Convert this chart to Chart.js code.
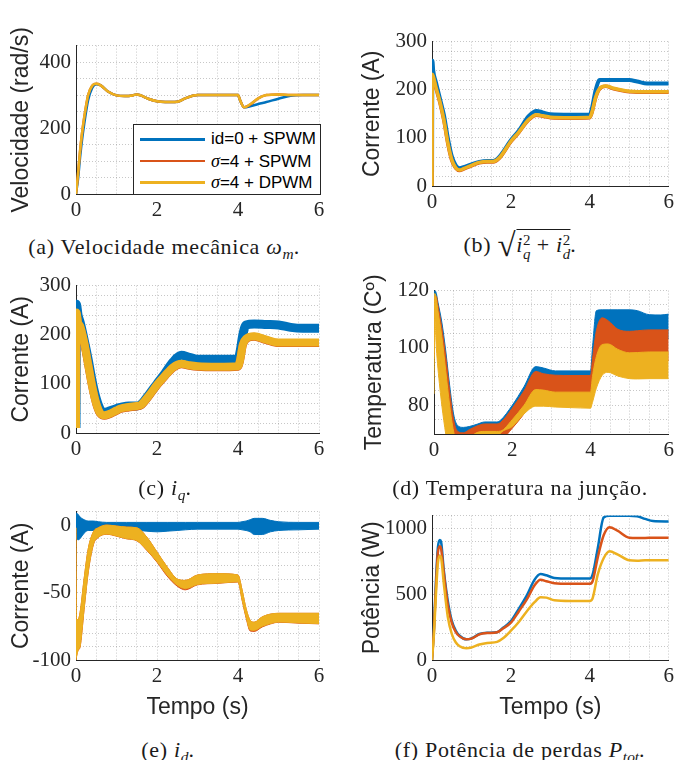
<!DOCTYPE html>
<html>
<head>
<meta charset="utf-8">
<script src="https://cdn.jsdelivr.net/npm/chart.js@4/dist/chart.umd.min.js"></script>
<style>
  html, body { margin: 0; padding: 0; background: #fff; }
  #page { position: relative; width: 678px; height: 760px; overflow: hidden; }
  canvas { position: absolute; }
  .cap { position: absolute; font-family: 'Liberation Serif', serif; font-size: 22px; line-height: 22px; letter-spacing: 0.7px;
         color: #1a1a1a; white-space: nowrap; transform: translateX(-50%); }
  .cap sub { font-size: 70%; vertical-align: -0.3em; line-height: 0; letter-spacing: 0; }
  .ss { display: inline-block; vertical-align: -0.45em; font-size: 68%; line-height: 0.95; text-align: left; letter-spacing: 0; }
  .ss span { display: block; }
  .rad { font-size: 150%; vertical-align: -0.12em; }
  .ov { border-top: 1px solid #1a1a1a; padding-top: 2px; }
  #legend { position: absolute; left: 133px; top: 124px; width: 186px; height: 69px; background: #fff;
            border: 1px solid #262626; font-family: 'Liberation Sans', sans-serif; font-size: 17px; color: #000; }
  .row { position: absolute; left: 0; height: 20px; width: 100%; }
  .row .ln { position: absolute; left: 6px; top: 9px; width: 65px; height: 2.5px; }
  .row .tx { position: absolute; left: 77px; top: 0; line-height: 20px; }
  .sig { font-family: 'Liberation Serif', serif; font-style: italic; font-size: 18px; }
</style>
</head>
<body>
<div id="page">
  <canvas id="velChart" width="330" height="192" style="left:0px;top:28px"></canvas>
  <canvas id="magChart" width="338" height="188" style="left:340px;top:24px"></canvas>
  <canvas id="iqChart" width="330" height="191" style="left:0px;top:268px"></canvas>
  <canvas id="tempChart" width="338" height="187" style="left:340px;top:273px"></canvas>
  <canvas id="idChart" width="330" height="228" style="left:0px;top:494px"></canvas>
  <canvas id="powChart" width="338" height="224" style="left:340px;top:498px"></canvas>

  <div id="legend"></div>

  <div class="cap" style="left:164px;top:236px">(a) Velocidade mecânica <i>ω</i><sub><i>m</i></sub>.</div>
  <div class="cap" style="left:520px;top:233px">(b) <span class="rad">√</span><span class="ov"><i>i</i><span class="ss"><span>2</span><span><i>q</i></span></span> + <i>i</i><span class="ss"><span>2</span><span><i>d</i></span></span></span>.</div>
  <div class="cap" style="left:165px;top:477px">(c) <i>i</i><sub><i>q</i></sub>.</div>
  <div class="cap" style="left:520px;top:477px">(d) Temperatura na junção.</div>
  <div class="cap" style="left:168px;top:739px">(e) <i>i</i><sub><i>d</i></sub>.</div>
  <div class="cap" style="left:520px;top:739px">(f) Potência de perdas <i>P</i><sub><i>tot</i></sub>.</div>
</div>

<script>
const BLUE = '#0072BD';
const ORANGE = '#D95319';
const YELLOW = '#EDB120';
const AXIS = '#262626';
const GRID = 'rgba(0,0,0,0.22)';

const SERIES_LABELS = ['id=0 + SPWM', 'σ=4 + SPWM', 'σ=4 + DPWM'];

// (a) velocidade mecanica
const T_VEL = [0, 0.05, 0.1, 0.15, 0.2, 0.3, 0.4, 0.5, 0.6, 0.8, 1.0, 1.2, 1.4, 1.5, 1.6, 1.8, 2.0, 2.2, 2.5, 2.7, 3.0, 3.5, 4.0, 4.05, 4.15, 4.3, 4.5, 4.7, 5.0, 5.3, 5.6, 6.0];
const VEL_BLUE = [0, 45, 110, 165, 210, 285, 322, 333, 330, 310, 299, 297, 299, 302, 299, 288, 281, 279, 280, 290, 300, 300, 300, 285, 263, 266, 273, 279, 289, 298, 300, 300];
const VEL_ORANGE = [0, 60, 130, 185, 230, 300, 328, 334, 330, 310, 299, 297, 299, 302, 299, 288, 281, 279, 280, 290, 300, 300, 300, 285, 263, 271, 290, 300, 302, 300, 300, 300];
const VEL_YELLOW = [0, 60, 130, 185, 230, 300, 328, 334, 330, 310, 299, 297, 299, 302, 299, 288, 281, 279, 280, 290, 300, 300, 300, 285, 263, 272, 290, 300, 302, 300, 300, 300];

// (b) modulo da corrente
const T_MAG = [0, 0.01, 0.03, 0.1, 0.2, 0.3, 0.4, 0.5, 0.6, 0.7, 0.8, 1.0, 1.2, 1.4, 1.55, 1.7, 2.0, 2.2, 2.45, 2.65, 2.8, 3.0, 3.5, 4.0, 4.05, 4.15, 4.25, 4.4, 4.6, 4.9, 5.0, 5.2, 5.45, 5.7, 6.0];
const MAG_BLUE = [0, 260, 240, 215, 182, 148, 100, 62, 43, 37, 39, 45, 50, 52, 52, 60, 95, 115, 145, 156, 153, 149, 148, 148, 160, 200, 220, 220, 220, 220, 220, 217, 213, 213, 213];
const MAG_ORANGE = [0, 230, 226, 203, 173, 136, 88, 53, 37, 32, 35, 42, 48, 50, 50, 57, 92, 111, 137, 147, 145, 142, 141, 142, 151, 184, 202, 207, 202, 197, 196, 195, 195, 195, 195];
const MAG_YELLOW = [0, 232, 228, 205, 175, 138, 90, 55, 38, 33, 36, 43, 49, 51, 51, 58, 93, 112, 138, 148, 146, 143, 142, 143, 152, 185, 203, 208, 203, 198, 197, 196, 196, 196, 196];

// (c) iq
const T_IQ = [0, 0.01, 0.05, 0.1, 0.2, 0.3, 0.4, 0.5, 0.6, 0.7, 0.8, 1.0, 1.1, 1.3, 1.5, 1.6, 1.8, 2.0, 2.2, 2.4, 2.6, 2.8, 3.0, 3.5, 4.0, 4.05, 4.12, 4.2, 4.4, 4.7, 5.0, 5.3, 5.6, 6.0];
const IQ_BLUE = [10, 262, 240, 226, 190, 150, 105, 70, 48, 42, 44, 50, 52, 55, 55, 58, 78, 100, 122, 145, 158, 154, 150, 150, 150, 165, 200, 220, 222, 221, 220, 215, 213, 213];
const IQ_ORANGE = [10, 244, 224, 217, 184, 139, 94, 59, 39, 35, 37, 45, 49, 52, 54, 56, 75, 97, 116, 133, 140, 137, 135, 134, 135, 147, 179, 191, 196, 189, 183, 183, 183, 183];
const IQ_YELLOW = [10, 245, 225, 218, 185, 140, 95, 60, 40, 36, 38, 46, 50, 53, 55, 57, 76, 98, 117, 134, 141, 138, 136, 135, 136, 148, 180, 192, 197, 190, 184, 184, 184, 184];

// (d) temperatura na juncao (faixas max/min)
const T_TEMP = [0, 0.02, 0.06, 0.1, 0.2, 0.3, 0.4, 0.5, 0.6, 0.75, 0.9, 1.1, 1.3, 1.6, 1.7, 2.0, 2.3, 2.6, 2.8, 3.1, 3.5, 4.0, 4.05, 4.15, 4.3, 4.45, 4.7, 5.0, 5.2, 5.5, 5.8, 6.0];
const TEMP_BLUE_MAX = [113, 120, 119, 116, 109, 99, 87, 77, 73, 72.3, 72.6, 73.4, 74.2, 74.2, 74.8, 80, 86.5, 93.5, 93, 92, 92, 92, 100, 113, 113.3, 113.3, 113.3, 113.3, 113, 111.6, 111.5, 111.8];
const TEMP_BLUE_MIN = [107, 115, 115, 112, 104, 94, 82, 72, 68, 67.4, 68.5, 69.8, 70.5, 70.5, 71, 76, 82, 88.8, 88, 87.5, 87.4, 87.4, 93, 103, 107.5, 106.5, 103.5, 102.8, 103, 103.3, 103.3, 103.3];
const TEMP_ORANGE_MAX = [110, 118, 118, 115, 107, 97, 85, 75, 71, 70.4, 71.5, 72.8, 73.5, 73.5, 74, 79, 85, 91.8, 91, 90.5, 90.4, 90.4, 96, 106, 110.5, 109.5, 106.5, 105.8, 106, 106.3, 106.3, 106.3];
const TEMP_ORANGE_MIN = [97, 116, 114, 110, 101, 89, 77, 68, 64, 63, 65.5, 67.5, 67.9, 67.9, 68, 72, 77, 82.5, 82.3, 81.6, 81.6, 81.6, 87, 94, 97.5, 98.6, 96.5, 95.3, 95.4, 95.6, 95.6, 95.6];
const TEMP_YELLOW_MAX = [100, 119, 117, 113, 104, 92, 80, 71, 67, 66, 68.5, 70.5, 70.9, 70.9, 71, 75, 80, 85.5, 85.3, 84.6, 84.6, 84.6, 90, 97, 101.2, 101.4, 99.5, 98.3, 98.4, 98.6, 98.6, 98.6];
const TEMP_YELLOW_MIN = [84, 110, 100, 93, 80, 70, 62, 56, 52, 50, 50, 55, 60, 68, 70.3, 72.6, 77, 79.7, 79.7, 79.4, 79.2, 79, 81, 86, 90.5, 91.5, 90.2, 89.3, 89.2, 89.3, 89.3, 89.3];

// (e) id (faixas max/min)
const T_ID = [0, 0.01, 0.05, 0.1, 0.2, 0.3, 0.43, 0.55, 0.76, 1.0, 1.25, 1.5, 1.75, 2.0, 2.25, 2.5, 2.7, 3.0, 3.5, 4.0, 4.1, 4.2, 4.3, 4.4, 4.6, 4.8, 5.0, 5.5, 6.0];
const ID_BLUE_MAX = [8, 9, 8, 6, 4, 3, 3, 2.5, 2, 2, 2, 2, 2, 2, 2, 2, 2, 2, 2, 2, 2.5, 3, 4, 5, 5, 3.5, 2.5, 2, 2];
const ID_BLUE_MIN = [-8, -9, -11, -10, -6, -4, -4, -4, -4, -4, -4, -4, -4.5, -5, -4.5, -4, -3.5, -3, -3, -3, -3.5, -4, -5, -7, -7, -5, -4, -3.5, -3];
const ID_ORANGE_MAX = [-2, -70, -70, -65, -40, -18, -5, -2, 0, -0.7, -1.5, -2, -9, -20, -31, -40, -41, -37, -36, -37, -48, -62, -70.6, -72, -68, -66, -65.4, -65.4, -65.4];
const ID_ORANGE_MIN = [-100, -98, -93, -90.5, -62.5, -35.5, -14.5, -9.2, -6.8, -8.2, -10.2, -11.6, -18.8, -27.5, -37.8, -45.3, -48, -44.3, -43.2, -42.2, -55.5, -68.8, -78.5, -78.8, -75.5, -73.3, -72, -72.7, -73.2];
const ID_YELLOW_MAX = [-2, -70, -70, -65, -40, -18, -5, -2, 0, -0.7, -1.5, -2, -9, -20, -31, -40, -41, -37, -36, -37, -48, -62, -70.6, -72, -68, -66, -65.4, -65.4, -65.4];
const ID_YELLOW_MIN = [-100, -98, -93, -90, -62, -35, -14, -9, -6.6, -8, -10, -11.4, -18.5, -27, -37, -44.5, -47, -44, -43, -42, -55, -68, -77.7, -78, -75, -73, -71.8, -72.5, -73];

// (f) potencia de perdas
const T_POW = [0, 0.05, 0.1, 0.15, 0.2, 0.23, 0.3, 0.4, 0.5, 0.6, 0.7, 0.87, 1.0, 1.2, 1.4, 1.65, 1.8, 2.0, 2.2, 2.4, 2.6, 2.75, 2.9, 3.1, 3.5, 4.0, 4.07, 4.2, 4.35, 4.5, 4.7, 5.0, 5.2, 5.4, 5.6, 6.0];
const POW_BLUE = [0, 250, 600, 860, 915, 900, 680, 450, 300, 225, 185, 158, 165, 198, 207, 211, 245, 296, 390, 490, 612, 655, 645, 625, 620, 620, 650, 850, 1085, 1098, 1098, 1098, 1095, 1075, 1058, 1055];
const POW_ORANGE = [0, 230, 560, 820, 866, 850, 660, 420, 285, 215, 180, 158, 163, 195, 205, 211, 240, 285, 370, 460, 570, 612, 600, 585, 580, 580, 600, 780, 950, 1012, 985, 932, 930, 930, 932, 932];
const POW_YELLOW = [0, 200, 500, 740, 794, 780, 580, 330, 200, 135, 105, 90, 95, 118, 130, 138, 165, 223, 290, 370, 440, 478, 475, 455, 450, 450, 470, 650, 775, 828, 805, 760, 757, 760, 760, 760];

const toPoints = (t, v) => t.map((x, i) => ({ x, y: v[i] }));

const lineSet = (t, v, color, width) => ({
  data: toPoints(t, v),
  borderColor: color,
  backgroundColor: color,
  borderWidth: width,
  pointRadius: 0,
  cubicInterpolationMode: 'monotone',
  fill: false,
});

// upper edge filled down to the lower edge (next dataset)
const bandSets = (t, upper, lower, color) => [
  { ...lineSet(t, upper, color, 1), fill: '+1' },
  lineSet(t, lower, color, 1),
];

const tickFont = { family: 'Liberation Serif', size: 21 };
const titleFont = { family: 'Liberation Sans', size: 23 };

function makeChart(id, datasets, opts) {
  const xTitle = opts.xTitle
    ? { display: true, text: 'Tempo (s)', font: titleFont, color: AXIS, padding: { top: 0, bottom: 1 } }
    : { display: false };

  return new Chart(document.getElementById(id), {
    type: 'line',
    data: { datasets },
    options: {
      animation: false,
      responsive: false,
      events: [],
      layout: { padding: { top: 12, right: opts.padRight, left: 0, bottom: 0 }, autoPadding: false },
      plugins: { legend: { display: false }, tooltip: { enabled: false } },
      scales: {
        x: {
          type: 'linear',
          min: 0,
          max: 6,
          ticks: {
            stepSize: 0.5,
            autoSkip: false,
            maxRotation: 0,
            padding: 4,
            font: tickFont,
            color: AXIS,
            callback: (v) => (v % 2 === 0 ? String(v) : ''),
          },
          grid: { color: GRID, drawTicks: false },
          border: { color: AXIS, width: 1, dash: [1, 2] },
          title: xTitle,
          afterFit: (scale) => { scale.height = opts.xHeight; },
        },
        y: {
          min: opts.yMin,
          max: opts.yMax,
          ticks: {
            stepSize: opts.yStep,
            autoSkip: false,
            padding: 5,
            font: tickFont,
            color: AXIS,
            callback: (v) => (v % opts.yMajor === 0 ? String(v) : ''),
          },
          grid: { color: GRID, drawTicks: false },
          border: { color: AXIS, width: 1, dash: [1, 2] },
          title: { display: true, text: opts.yTitle, font: titleFont, color: AXIS, padding: { top: opts.titlePad, bottom: 0 } },
          afterFit: (scale) => { scale.width = opts.yWidth; },
        },
      },
    },
  });
}

const leftCol = { padRight: 11, yWidth: 76, titlePad: 8 };
const rightCol = { padRight: 6, yWidth: 92, titlePad: 19 };

// datasets listed top-most first (Chart.js draws index 0 last)
makeChart('velChart', [
  lineSet(T_VEL, VEL_YELLOW, YELLOW, 2.5),
  lineSet(T_VEL, VEL_ORANGE, ORANGE, 2.5),
  lineSet(T_VEL, VEL_BLUE, BLUE, 2.5),
], { ...leftCol, yMin: 0, yMax: 450, yStep: 50, yMajor: 200, yTitle: 'Velocidade (rad/s)', xHeight: 26 });

makeChart('magChart', [
  lineSet(T_MAG, MAG_YELLOW, YELLOW, 3.5),
  lineSet(T_MAG, MAG_ORANGE, ORANGE, 3.5),
  lineSet(T_MAG, MAG_BLUE, BLUE, 4),
], { ...rightCol, yMin: 0, yMax: 300, yStep: 20, yMajor: 100, yTitle: 'Corrente (A)', xHeight: 26 });

makeChart('iqChart', [
  lineSet(T_IQ, IQ_YELLOW, YELLOW, 8),
  lineSet(T_IQ, IQ_ORANGE, ORANGE, 8),
  lineSet(T_IQ, IQ_BLUE, BLUE, 9),
], { ...leftCol, yMin: 0, yMax: 300, yStep: 20, yMajor: 100, yTitle: 'Corrente (A)', xHeight: 26 });

makeChart('tempChart', [
  ...bandSets(T_TEMP, TEMP_YELLOW_MAX, TEMP_YELLOW_MIN, YELLOW),
  ...bandSets(T_TEMP, TEMP_ORANGE_MAX, TEMP_ORANGE_MIN, ORANGE),
  ...bandSets(T_TEMP, TEMP_BLUE_MAX, TEMP_BLUE_MIN, BLUE),
], { ...rightCol, yWidth: 94, titlePad: 21, yMin: 70, yMax: 120, yStep: 5, yMajor: 20, yTitle: 'Temperatura (Cº)', xHeight: 26 });

makeChart('idChart', [
  ...bandSets(T_ID, ID_YELLOW_MAX, ID_YELLOW_MIN, YELLOW),
  ...bandSets(T_ID, ID_ORANGE_MAX, ID_ORANGE_MIN, ORANGE),
  ...bandSets(T_ID, ID_BLUE_MAX, ID_BLUE_MIN, BLUE),
], { ...leftCol, yMin: -100, yMax: 10, yStep: 10, yMajor: 50, yTitle: 'Corrente (A)', xHeight: 62, xTitle: true });

makeChart('powChart', [
  lineSet(T_POW, POW_YELLOW, YELLOW, 2.5),
  lineSet(T_POW, POW_ORANGE, ORANGE, 2.5),
  lineSet(T_POW, POW_BLUE, BLUE, 2.5),
], { ...rightCol, yMin: 0, yMax: 1100, yStep: 100, yMajor: 500, yTitle: 'Potência (W)', xHeight: 62, xTitle: true });

// legend of (a)
const legendElem = document.getElementById('legend');
[BLUE, ORANGE, YELLOW].forEach((color, i) => {
  const row = document.createElement('div');
  row.className = 'row';
  row.style.top = `${4 + i * 21.5}px`;
  const label = SERIES_LABELS[i].replace('σ', '<span class="sig">σ</span>');
  row.innerHTML = `<div class="ln" style="background:${color}"></div><div class="tx">${label}</div>`;
  legendElem.appendChild(row);
});
</script>
</body>
</html>
